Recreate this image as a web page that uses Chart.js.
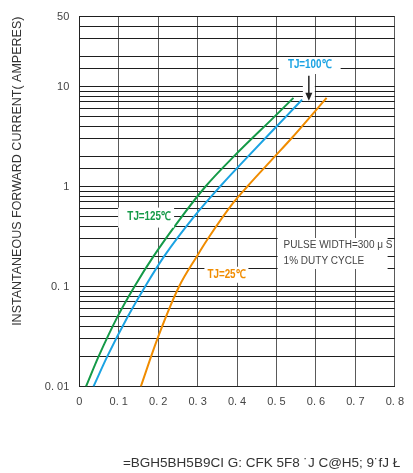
<!DOCTYPE html>
<html>
<head>
<meta charset="utf-8">
<script src="https://cdn.jsdelivr.net/npm/chart.js@4.4.0/dist/chart.umd.min.js"></script>
<style>
  html, body { margin: 0; padding: 0; background: #fff; }
  #wrap { width: 413px; height: 473px; }
</style>
</head>
<body>
<div id="wrap"><canvas id="ivChart"></canvas></div>
<script>
// Forward voltage (V) against instantaneous current (A)
const voltage25 = [0.156, 0.198, 0.253, 0.298, 0.326, 0.392, 0.426, 0.496, 0.537, 0.627];
const current25 = [0.01, 0.03, 0.1, 0.2, 0.3, 0.7, 1, 2, 3, 7.7];

const voltage100 = [0.036, 0.071, 0.123, 0.167, 0.215, 0.291, 0.357, 0.428, 0.524, 0.565];
const current100 = [0.01, 0.02, 0.05, 0.1, 0.2, 0.5, 1, 2, 5, 7.4];

const voltage125 = [0.017, 0.049, 0.097, 0.14, 0.188, 0.26, 0.32, 0.392, 0.495, 0.543];
const current125 = [0.01, 0.02, 0.05, 0.1, 0.2, 0.5, 1, 2, 5, 7.7];

// Tick labels as printed on the sheet
const xTickLabels = ['0', '0. 1', '0. 2', '0. 3', '0. 4', '0. 5', '0. 6', '0. 7', '0. 8'];
const yTickValues = [0.01, 0.1, 1, 10, 50];
const yTickLabels = ['0. 01', '0. 1', '1', '10', '50'];

const yTitle = 'INSTANTANEOUS FORWARD CURRENT( AMPERES)';
const xTitle = '=BGH5BH5B9CI G: CFK 5F8 ˙J C@H5; 9˙fJ Ł';

const toPoints = (xs, ys) => xs.map((x, i) => ({ x: x, y: ys[i] }));

const labelFont = '"Liberation Sans", Arial, sans-serif';

// narrow bold label, squeezed sideways like the sheet's condensed face
function narrowText(ctx, text, x, y, color) {
  ctx.save();
  ctx.translate(x, y);
  ctx.scale(0.82, 1);
  ctx.font = 'bold 12px ' + labelFont;
  ctx.fillStyle = color;
  ctx.textAlign = 'center';
  ctx.textBaseline = 'middle';
  ctx.fillText(text, 0, 0);
  ctx.restore();
}

// Text notes, white boxes and the arrow drawn on top of the grid
const notesPlugin = {
  id: 'notes',
  afterDatasetsDraw(chart) {
    const ctx = chart.ctx;
    const xs = chart.scales.x;
    const ys = chart.scales.y;
    const px = v => xs.getPixelForValue(v);
    const py = v => ys.getPixelForValue(v);

    ctx.save();
    ctx.fillStyle = '#fff';
    // boxes behind the labels
    ctx.fillRect(px(0.584) - 31, py(16.4) - 8, 62, 17);
    ctx.fillRect(px(0.582) - 6, py(12.8) - 1, 12, py(7.2) - py(12.8) + 1);
    ctx.fillRect(px(0.177) - 31, py(0.5) - 9, 56, 20);
    ctx.fillRect(px(0.373) - 22, py(0.131) - 8, 44, 16);
    ctx.fillRect(px(0.518) - 6, py(0.26) - 7, 110, 31);
    ctx.restore();

    narrowText(ctx, 'TJ=100℃', px(0.584), py(16.4), '#1ba3e3');
    narrowText(ctx, 'TJ=125℃', px(0.177), py(0.5), '#159a48');
    narrowText(ctx, 'TJ=25℃', px(0.373), py(0.131), '#f08c00');

    ctx.save();
    ctx.textAlign = 'left';
    ctx.textBaseline = 'middle';
    ctx.font = '10px ' + labelFont;
    ctx.fillStyle = '#444';
    ctx.fillText('PULSE WIDTH=300 μ S', px(0.518), py(0.26));
    ctx.fillText('1% DUTY CYCLE', px(0.518), py(0.18));

    // arrow pointing at the 100 degree curve
    const ax = px(0.582);
    const tip = py(7.2);
    ctx.strokeStyle = '#222';
    ctx.lineWidth = 1.5;
    ctx.beginPath();
    ctx.moveTo(ax, py(12.8));
    ctx.lineTo(ax, tip - 6);
    ctx.stroke();
    ctx.fillStyle = '#222';
    ctx.beginPath();
    ctx.moveTo(ax - 3.5, tip - 8);
    ctx.lineTo(ax + 3.5, tip - 8);
    ctx.lineTo(ax, tip);
    ctx.closePath();
    ctx.fill();
    ctx.restore();
  },
  afterDraw(chart) {
    const ctx = chart.ctx;
    const area = chart.chartArea;
    ctx.save();
    ctx.font = '13.5px ' + labelFont;
    ctx.fillStyle = '#333';
    ctx.textAlign = 'center';
    ctx.textBaseline = 'middle';
    ctx.fillText(xTitle, area.left + (area.right - area.left) * 0.578, chart.height - 10);
    ctx.restore();
  }
};

const lineStyle = {
  borderWidth: 2,
  pointRadius: 0,
  cubicInterpolationMode: 'monotone',
  fill: false
};

const ctx = document.getElementById('ivChart').getContext('2d');
const ivChart = new Chart(ctx, {
  type: 'line',
  data: {
    datasets: [
      Object.assign({ label: 'TJ=125℃', data: toPoints(voltage125, current125), borderColor: '#159a48' }, lineStyle),
      Object.assign({ label: 'TJ=100℃', data: toPoints(voltage100, current100), borderColor: '#1ba3e3' }, lineStyle),
      Object.assign({ label: 'TJ=25℃', data: toPoints(voltage25, current25), borderColor: '#f08c00' }, lineStyle)
    ]
  },
  options: {
    responsive: true,
    maintainAspectRatio: false,
    animation: false,
    layout: { padding: { top: 13, right: 9.7, left: 0, bottom: 0 } },
    plugins: {
      legend: { display: false },
      tooltip: { enabled: false }
    },
    scales: {
      x: {
        type: 'linear',
        min: 0,
        max: 0.8,
        afterFit: scale => { scale.height = 86.5; },
        ticks: {
          stepSize: 0.1,
          padding: 9,
          color: '#444',
          font: { family: labelFont, size: 11 },
          callback: v => xTickLabels[Math.round(v * 10)]
        },
        grid: { color: '#5a5a5a', lineWidth: 1, drawTicks: false },
        border: { display: true, color: '#222', width: 1 }
      },
      y: {
        type: 'logarithmic',
        min: 0.01,
        max: 50,
        afterFit: scale => { scale.width = 79.3; },
        ticks: {
          autoSkip: false,
          padding: 10,
          color: '#444',
          font: { family: labelFont, size: 11 },
          callback: v => {
            const i = yTickValues.findIndex(t => Math.abs(t - v) < t * 1e-6);
            return i >= 0 ? yTickLabels[i] : '';
          }
        },
        grid: { color: '#1e1e1e', lineWidth: 1, drawTicks: false },
        border: { display: true, color: '#222', width: 1 },
        title: {
          display: true,
          text: yTitle,
          align: 'end',
          color: '#333',
          font: { family: labelFont, size: 12.5 },
          padding: { top: 10, bottom: 0 }
        }
      }
    }
  },
  plugins: [notesPlugin]
});
</script>
</body>
</html>
